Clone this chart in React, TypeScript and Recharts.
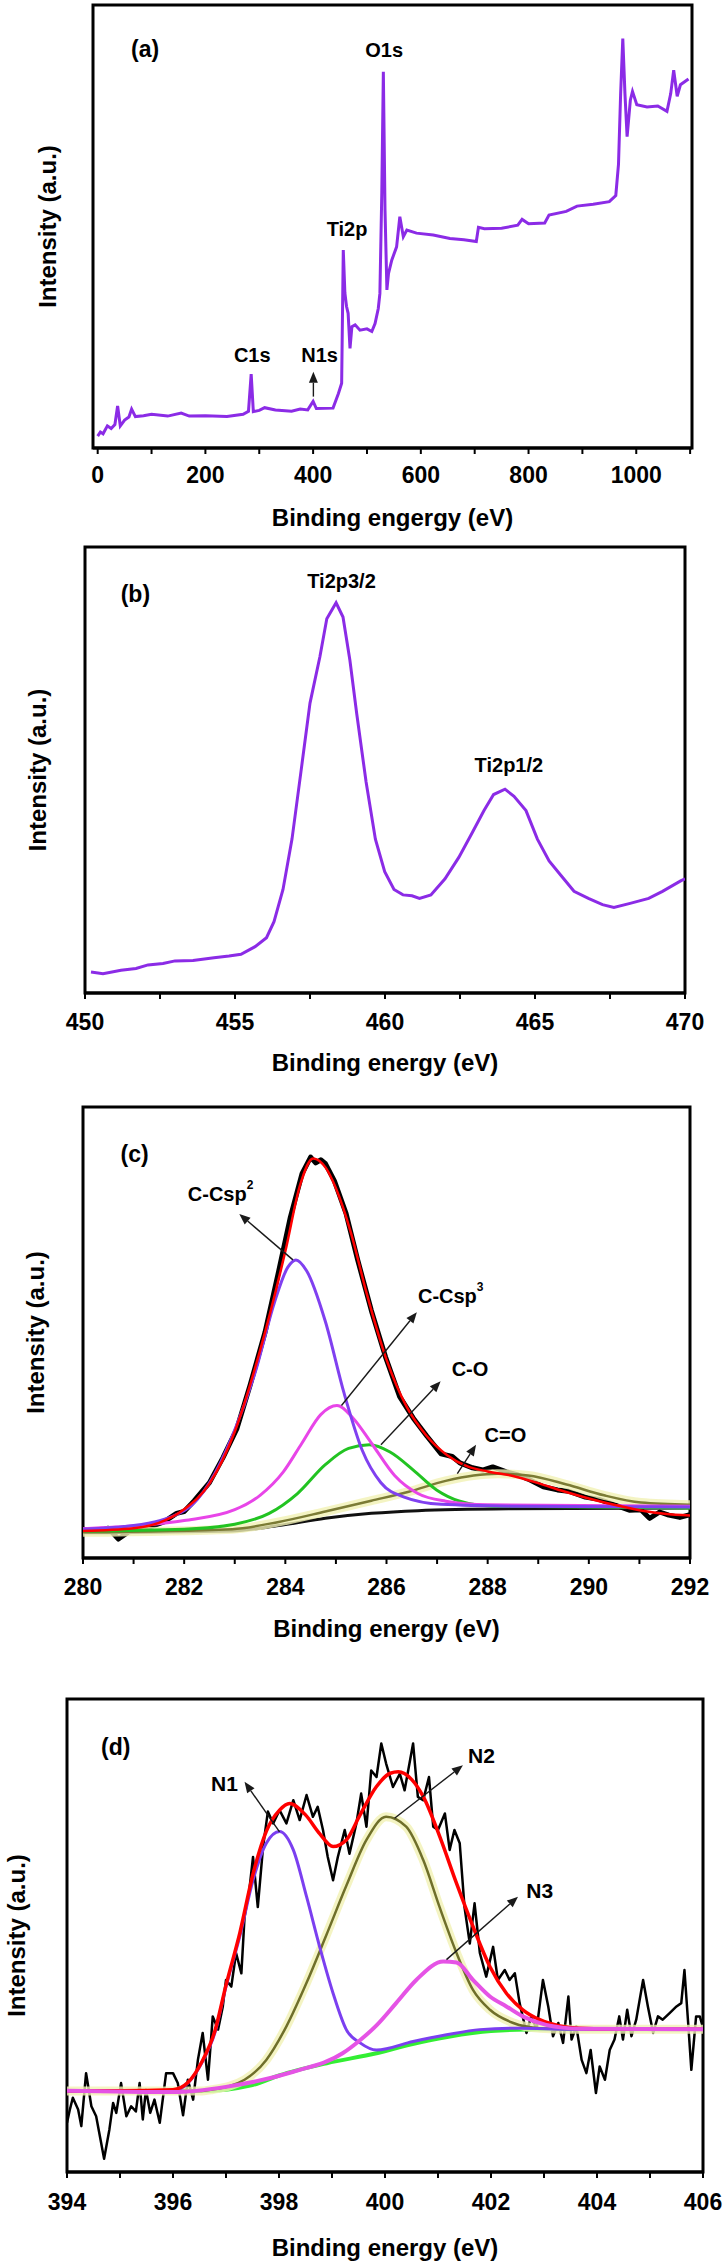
import React from "react";
import {
  LineChart,
  Line,
  XAxis,
  YAxis,
  ReferenceArea,
  ReferenceDot,
  ReferenceLine,
  Label,
} from "recharts";

const FONT = '"Liberation Sans", Arial, Helvetica, sans-serif';

// (a) survey spectrum
const surveyEnergy = [
  0, 5, 10, 18, 25, 32, 37, 42, 50, 58, 63, 70, 85, 100, 130, 155, 170, 200, 240, 270, 280, 285, 289,
  300, 310, 330, 360, 376, 390, 400, 406, 437, 447, 453, 456, 459, 462, 465, 468.5, 472, 478, 487,
  500, 509, 515, 521, 524, 527.5, 530.4, 533.5, 537, 540, 546, 555, 561, 567.5, 574, 592, 623, 654,
  680, 703, 707, 718, 750, 780, 788, 800, 830, 838, 870, 890, 920, 950, 962, 967, 971, 975, 979, 983,
  989, 993, 1001, 1020, 1040, 1057, 1064, 1069.5, 1076, 1082, 1097,
];
const surveyIntensity = [
  2.7, 3.6, 3.2, 5.0, 4.4, 5.3, 9.5, 5.0, 6.3, 7.0, 8.8, 7.1, 7.3, 7.6, 7.2, 7.9, 7.2, 7.3, 7.1, 7.6,
  8.3, 16.7, 8.2, 8.5, 9.1, 8.6, 8.3, 8.8, 8.6, 10.5, 8.9, 9.0, 12.3, 14.6, 44.7, 35.0, 32.0, 30.4,
  22.5, 27.4, 27.8, 26.6, 26.9, 26.3, 28.1, 31.5, 34.9, 57.5, 84.9, 53.7, 35.7, 39.4, 42.4, 45.4,
  52.2, 47.7, 49.2, 48.5, 48.1, 47.3, 47.0, 46.6, 49.8, 49.5, 49.6, 50.3, 51.6, 50.6, 50.8, 52.6,
  53.4, 54.6, 55.0, 55.6, 57.0, 64.0, 80.0, 92.4, 80.0, 70.3, 78.5, 80.5, 77.5, 77.0, 77.2, 76.0,
  80.0, 85.3, 79.4, 82.0, 83.3,
];
const surveyTicks = [0, 100, 200, 300, 400, 500, 600, 700, 800, 900, 1000, 1100];
const surveyTickLabels = [0, 200, 400, 600, 800, 1000];

// (b) Ti 2p
const tiEnergy = [
  450.2, 450.6, 451.2, 451.7, 452.1, 452.6, 453.0, 453.6, 454.3, 454.8, 455.2, 455.67, 456.05, 456.3,
  456.6, 456.9, 457.2, 457.5, 457.83, 458.06, 458.37, 458.6, 458.83, 459.06, 459.37, 459.68, 459.99,
  460.3, 460.6, 460.9, 461.15, 461.53, 462.0, 462.46, 462.92, 463.3, 463.62, 464.0, 464.3, 464.7,
  465.08, 465.47, 465.86, 466.3, 466.78, 467.25, 467.63, 468.17, 468.79, 469.25, 469.87, 470.0,
];
const tiIntensity = [
  4.7, 4.3, 5.1, 5.5, 6.3, 6.6, 7.2, 7.3, 7.9, 8.3, 8.7, 10.4, 12.4, 16.0, 23.2, 34.5, 49.7, 65.0,
  75.4, 83.9, 87.5, 84.3, 74.6, 62.5, 47.3, 34.5, 27.2, 23.2, 22.0, 21.8, 21.2, 22.0, 25.6, 30.4,
  36.1, 40.9, 44.5, 45.7, 44.1, 40.9, 34.5, 29.6, 26.4, 22.8, 21.2, 19.8, 19.2, 20.1, 21.2, 22.8,
  25.2, 25.6,
];
const tiTicks = [450, 452.5, 455, 457.5, 460, 462.5, 465, 467.5, 470];
const tiTickLabels = [450, 455, 460, 465, 470];

// (c) C 1s
const cRawEnergy = [
  280.0, 280.3, 280.5, 280.7, 280.9, 281.1, 281.3, 281.6, 281.85, 282.0, 282.2, 282.5, 282.77, 283.04,
  283.3, 283.6, 283.87, 284.1, 284.33, 284.5, 284.6, 284.7, 284.79, 284.97, 285.2, 285.43, 285.7,
  285.98, 286.26, 286.53, 286.8, 287.08, 287.3, 287.45, 287.7, 287.9, 288.1, 288.37, 288.6, 288.8,
  289.1, 289.38, 289.6, 289.93, 290.2, 290.48, 290.8, 291.03, 291.2, 291.4, 291.58, 291.8, 292.0,
];
const cRawIntensity = [
  6.4, 5.9, 6.6, 4.2, 5.8, 6.0, 6.8, 8.0, 9.9, 10.3, 12.7, 16.7, 22.3, 28.6, 38.2, 50.1, 63.7, 75.6,
  85.2, 88.9, 87.6, 88.3, 87.5, 83.6, 76.4, 66.1, 54.9, 44.6, 35.8, 31.0, 27.0, 23.1, 22.5, 21.1,
  20.0, 19.5, 20.2, 19.1, 18.4, 17.5, 15.8, 15.1, 14.8, 13.5, 13.0, 11.9, 10.6, 10.7, 8.8, 10.2, 9.5,
  9.0, 9.6,
];
const cFitEnergy = [
  280, 281, 281.5, 282, 282.5, 283, 283.5, 284, 284.3, 284.55, 284.8, 285, 285.3, 285.6, 286, 286.4,
  286.8, 287.2, 287.6, 288, 288.5, 289, 289.5, 290, 290.5, 291, 291.5, 292,
];
const cFitIntensity = [
  6.0, 6.6, 7.8, 10.8, 16.5, 28.0, 46.0, 68.0, 83.0, 88.6, 86.5, 82.0, 72.0, 59.0, 44.0, 33.5, 27.0,
  22.8, 20.3, 19.2, 18.2, 16.6, 14.8, 13.2, 11.8, 10.6, 9.8, 9.4,
];
const cSp2Energy = [
  280, 281, 282.03, 282.5, 282.95, 283.41, 283.78, 284.05, 284.21, 284.42, 284.79, 285.16, 285.52,
  285.89, 286.35, 287.08, 288.46, 292,
];
const cSp2Intensity = [
  6.4, 7.2, 10.7, 16.7, 27.0, 41.4, 56.5, 64.5, 66.1, 63.7, 52.5, 36.6, 23.9, 16.7, 13.5, 11.9, 11.5,
  11.3,
];
const cSp3Energy = [
  280, 281.1, 282.0, 283.0, 283.5, 283.96, 284.33, 284.7, 285.02, 285.34, 285.7, 286.16, 286.62,
  287.17, 288.0, 292,
];
const cSp3Intensity = [
  6.5, 7.2, 8.3, 10.7, 13.9, 19.1, 25.5, 31.8, 33.8, 31.0, 25.5, 18.3, 14.3, 12.6, 11.8, 11.5,
];
const cCOEnergy = [
  280, 282.0, 283.0, 283.68, 284.24, 284.79, 285.25, 285.66, 286.07, 286.53, 286.99, 287.45, 288.1,
  292,
];
const cCOIntensity = [6.0, 6.4, 7.5, 9.9, 14.3, 20.7, 24.3, 25.1, 23.5, 19.5, 15.1, 12.6, 11.5, 11.1];
const cCdOEnergy = [
  280, 282.95, 283.87, 284.79, 285.7, 286.44, 287.17, 287.72, 288.19, 288.8, 289.56, 290.3, 291.03,
  292,
];
const cCdOIntensity = [5.7, 6.4, 8.0, 10.3, 12.7, 14.7, 17.1, 18.3, 18.7, 18.3, 16.3, 13.9, 12.3, 11.8];
const cBaseEnergy = [280, 282.95, 283.87, 284.79, 285.7, 286.62, 288.46, 292];
const cBaseIntensity = [5.6, 6.0, 7.2, 8.8, 9.9, 10.5, 10.9, 11.1];
const cTicks = [280, 281, 282, 283, 284, 285, 286, 287, 288, 289, 290, 291, 292];
const cTickLabels = [280, 282, 284, 286, 288, 290, 292];

// (d) N 1s
const nRawEnergy = [
  394.0, 394.05, 394.11, 394.21, 394.27, 394.36, 394.46, 394.55, 394.7, 394.8, 394.87, 394.93, 395.02,
  395.12, 395.21, 395.3, 395.37, 395.43, 395.49, 395.57, 395.65, 395.75, 395.87, 396.0, 396.09,
  396.19, 396.28, 396.38, 396.47, 396.56, 396.66, 396.75, 396.85, 396.94, 397.0, 397.1, 397.19,
  397.29, 397.35, 397.44, 397.51, 397.6, 397.7, 397.79, 397.89, 398.01, 398.14, 398.27, 398.39,
  398.52, 398.64, 398.73, 398.83, 398.92, 399.02, 399.11, 399.24, 399.33, 399.46, 399.55, 399.65,
  399.74, 399.84, 399.93, 400.02, 400.15, 400.28, 400.37, 400.53, 400.62, 400.72, 400.83, 400.91,
  401.0, 401.13, 401.22, 401.31, 401.41, 401.5, 401.6, 401.69, 401.79, 401.91, 402.04, 402.13,
  402.26, 402.35, 402.45, 402.54, 402.67, 402.76, 402.86, 402.98, 403.08, 403.17, 403.27, 403.36,
  403.46, 403.52, 403.61, 403.71, 403.8, 403.88, 403.98, 404.05, 404.15, 404.24, 404.33, 404.42,
  404.49, 404.57, 404.65, 404.74, 404.87, 404.96, 405.06, 405.15, 405.24, 405.37, 405.5, 405.59,
  405.65, 405.72, 405.78, 405.87, 405.94, 406.0,
];
const nRawIntensity = [
  10.4, 13.0, 15.7, 13.2, 9.7, 20.9, 13.9, 11.8, 2.8, 9.0, 14.6, 12.5, 18.8, 11.8, 13.9, 12.8, 18.8,
  11.1, 17.4, 12.5, 15.3, 10.4, 20.9, 20.9, 18.8, 12.0, 19.5, 15.3, 23.7, 29.4, 19.5, 32.9, 30.1,
  35.0, 40.6, 39.2, 46.3, 42.0, 53.9, 59.6, 66.6, 56.0, 68.8, 76.2, 73.7, 76.5, 73.7, 78.6, 74.4,
  79.7, 75.1, 77.2, 72.3, 66.6, 61.7, 66.6, 72.3, 67.3, 73.7, 80.0, 73.0, 84.9, 83.5, 90.6, 86.4,
  81.4, 84.2, 80.7, 90.6, 79.3, 78.6, 83.5, 73.0, 72.3, 75.8, 68.1, 72.3, 69.5, 56.0, 48.3, 56.8,
  46.3, 41.3, 47.6, 40.6, 42.7, 40.6, 42.0, 35.7, 29.4, 32.9, 30.1, 40.6, 35.0, 28.7, 31.5, 27.3,
  37.1, 28.0, 30.8, 23.7, 20.9, 25.8, 16.7, 22.3, 19.5, 25.8, 28.0, 32.9, 28.0, 34.3, 28.7, 32.2,
  40.6, 35.0, 29.4, 32.9, 32.2, 33.6, 35.0, 35.7, 42.7, 31.5, 21.6, 32.9, 32.9, 30.5,
];
const nFitEnergy = [
  394, 395, 396, 396.28, 396.54, 396.79, 397.0, 397.26, 397.51, 397.76, 398.01, 398.2, 398.5, 398.77,
  399.02, 399.27, 399.53, 399.84, 400.1, 400.25, 400.5, 400.72, 401.03, 401.35, 401.66, 401.98,
  402.29, 402.6, 402.92, 403.3, 403.67, 404.5, 406,
];
const nFitIntensity = [
  17.2, 17.2, 17.4, 18.9, 23.2, 29.8, 39.5, 50.5, 63.0, 72.0, 76.5, 77.9, 75.5, 71.5, 68.8, 70.2,
  75.5, 81.5, 84.3, 84.6, 83.0, 79.4, 71.0, 61.0, 51.9, 43.4, 37.8, 34.3, 32.2, 30.9, 30.4, 30.2,
  30.2,
];
const n1Energy = [
  394, 396, 396.28, 396.54, 396.79, 397.0, 397.26, 397.51, 397.76, 398.01, 398.27, 398.52, 398.77,
  399.02, 399.27, 399.53, 399.84, 400.53, 401.16, 401.79, 402.54, 403.5, 406,
];
const n1Intensity = [
  17.1, 17.2, 18.8, 23.0, 29.4, 39.2, 49.8, 61.7, 69.5, 72.0, 68.1, 58.2, 47.5, 37.8, 30.1, 27.3,
  25.8, 27.6, 29.0, 30.1, 30.4, 30.2, 30.2,
];
const n2Energy = [
  394, 396.5, 396.73, 397.35, 397.76, 398.14, 398.52, 398.89, 399.27, 399.65, 400.02, 400.4, 400.72,
  401.03, 401.35, 401.66, 401.98, 402.42, 402.92, 403.5, 406,
];
const n2Intensity = [
  17.1, 17.1, 17.4, 19.5, 23.7, 30.8, 40.0, 50.0, 60.5, 70.2, 75.1, 73.0, 66.0, 56.0, 46.3, 38.5,
  34.3, 31.5, 30.4, 30.2, 30.2,
];
const n3Energy = [
  394, 396, 397.0, 398.27, 399.2, 399.5, 399.84, 400.21, 400.59, 401.1, 401.35, 401.66, 401.98,
  402.29, 402.6, 403.04, 403.67, 406,
];
const n3Intensity = [
  17.2, 16.9, 18.0, 21.2, 25.1, 27.6, 31.0, 35.7, 40.6, 44.5, 44.3, 40.6, 37.1, 35.0, 32.9, 31.1,
  30.3, 30.2,
];
const nBaseEnergy = [394, 396.5, 397.5, 398, 398.9, 399.84, 400.5, 401.2, 402, 403, 406];
const nBaseIntensity = [17.1, 17.1, 18.4, 20.4, 23.0, 25.1, 27.0, 28.6, 29.8, 30.2, 30.2];
const nTicks = [394, 395, 396, 397, 398, 399, 400, 401, 402, 403, 404, 405, 406];
const nTickLabels = [394, 396, 398, 400, 402, 404, 406];

const toPoints = (xs: number[], ys: number[]) => xs.map((x, i) => ({ x, y: ys[i] }));

type PanelProps = {
  top: number;
  height: number;
  left: number;
  right: number;
  frameTop: number;
  frameBottom: number;
  domain: [number, number];
  ticks: number[];
  tickLabels: number[];
  tickMargin: number;
  xTitle: string;
  xTitleY: number;
  yTitleX: number;
  children: React.ReactNode;
};

const AXIS_H = 60;

function XpsPanel(p: PanelProps) {
  const midX = (p.left + p.right) / 2;
  const midY = (p.frameTop + p.frameBottom) / 2;
  return (
    <div style={{ position: "absolute", left: 0, top: p.top }}>
      <LineChart
        width={725}
        height={p.height}
        margin={{
          top: p.frameTop,
          right: 725 - p.right,
          bottom: p.height - p.frameBottom - AXIS_H,
          left: 0,
        }}
      >
        <XAxis
          type="number"
          dataKey="x"
          domain={p.domain}
          ticks={p.ticks}
          interval={0}
          allowDataOverflow
          height={AXIS_H}
          tickSize={6}
          tickMargin={p.tickMargin}
          tickFormatter={(v: number) => (p.tickLabels.includes(v) ? String(v) : "")}
          axisLine={{ stroke: "#000", strokeWidth: 3 }}
          tickLine={{ stroke: "#000", strokeWidth: 2 }}
          tick={{ fill: "#000", fontSize: 23, fontWeight: 700, fontFamily: FONT }}
          label={
            <Label
              content={() => (
                <text
                  x={midX}
                  y={p.xTitleY}
                  textAnchor="middle"
                  dominantBaseline="central"
                  fontFamily={FONT}
                  fontSize={24}
                  fontWeight={700}
                  fill="#000"
                >
                  {p.xTitle}
                </text>
              )}
            />
          }
        />
        <YAxis
          type="number"
          domain={[0, 100]}
          allowDataOverflow
          width={p.left}
          tick={false}
          tickLine={false}
          axisLine={false}
          label={
            <Label
              content={() => (
                <text
                  x={p.yTitleX}
                  y={midY}
                  transform={`rotate(-90 ${p.yTitleX} ${midY})`}
                  textAnchor="middle"
                  dominantBaseline="central"
                  fontFamily={FONT}
                  fontSize={24}
                  fontWeight={700}
                  fill="#000"
                >
                  Intensity (a.u.)
                </text>
              )}
            />
          }
        />
        {p.children}
        <ReferenceArea
          x1={p.domain[0]}
          x2={p.domain[1]}
          y1={0}
          y2={100}
          fill="none"
          fillOpacity={0}
          stroke="#000"
          strokeWidth={3}
          ifOverflow="visible"
        />
      </LineChart>
    </div>
  );
}

const textShape = (content: React.ReactNode, size = 20) => (props: any) => (
  <text
    x={props.cx}
    y={props.cy}
    textAnchor="middle"
    dominantBaseline="central"
    fontFamily={FONT}
    fontSize={size}
    fontWeight={700}
    fill="#000"
  >
    {content}
  </text>
);

const arrowShape = (props: any) => {
  const { x1, y1, x2, y2 } = props;
  const ang = Math.atan2(y2 - y1, x2 - x1);
  const len = 11;
  const w = 4.5;
  const bx = x2 - len * Math.cos(ang);
  const by = y2 - len * Math.sin(ang);
  const px = -Math.sin(ang) * w;
  const py = Math.cos(ang) * w;
  return (
    <g>
      <line x1={x1} y1={y1} x2={bx} y2={by} stroke="#1a1a1a" strokeWidth={1.4} />
      <polygon points={`${x2},${y2} ${bx + px},${by + py} ${bx - px},${by - py}`} fill="#1a1a1a" />
    </g>
  );
};

const sup = (base: string, s: string) => (
  <>
    {base}
    <tspan fontSize={12} dy={-9}>
      {s}
    </tspan>
  </>
);

export default function App() {
  return (
    <div style={{ position: "absolute", left: 0, top: 0, width: 725, height: 2262, background: "#fff" }}>
      {/* (a) survey */}
      <XpsPanel
        top={0}
        height={540}
        left={93}
        right={692}
        frameTop={5}
        frameBottom={448}
        domain={[-8.7, 1103.5]}
        ticks={surveyTicks}
        tickLabels={surveyTickLabels}
        tickMargin={13}
        xTitle="Binding engergy (eV)"
        xTitleY={517}
        yTitleX={47}
      >
        <Line
          data={toPoints(surveyEnergy, surveyIntensity)}
          dataKey="y"
          type="linear"
          stroke="#8b2be6"
          strokeWidth={3}
          dot={false}
          activeDot={false}
          isAnimationActive={false}
        />
        <ReferenceDot x={88} y={90} r={0} shape={textShape("(a)", 23)} />
        <ReferenceDot x={532} y={89.8} r={0} shape={textShape("O1s")} />
        <ReferenceDot x={463} y={49.4} r={0} shape={textShape("Ti2p")} />
        <ReferenceDot x={287} y={21.1} r={0} shape={textShape("C1s")} />
        <ReferenceDot x={412} y={21.1} r={0} shape={textShape("N1s")} />
        <ReferenceLine segment={[{ x: 400.5, y: 11.6 }, { x: 400.5, y: 17.2 }]} shape={arrowShape} />
      </XpsPanel>

      {/* (b) Ti 2p */}
      <XpsPanel
        top={540}
        height={560}
        left={85}
        right={685}
        frameTop={7}
        frameBottom={453}
        domain={[450, 470]}
        ticks={tiTicks}
        tickLabels={tiTickLabels}
        tickMargin={15}
        xTitle="Binding energy (eV)"
        xTitleY={522}
        yTitleX={37}
      >
        <Line
          data={toPoints(tiEnergy, tiIntensity)}
          dataKey="y"
          type="linear"
          stroke="#8b2be6"
          strokeWidth={3}
          dot={false}
          activeDot={false}
          isAnimationActive={false}
        />
        <ReferenceDot x={451.68} y={89.5} r={0} shape={textShape("(b)", 23)} />
        <ReferenceDot x={458.55} y={92.4} r={0} shape={textShape("Ti2p3/2")} />
        <ReferenceDot x={464.13} y={51.2} r={0} shape={textShape("Ti2p1/2")} />
      </XpsPanel>

      {/* (c) C 1s */}
      <XpsPanel
        top={1100}
        height={580}
        left={83}
        right={690}
        frameTop={7}
        frameBottom={458}
        domain={[280, 292]}
        ticks={cTicks}
        tickLabels={cTickLabels}
        tickMargin={15}
        xTitle="Binding energy (eV)"
        xTitleY={528}
        yTitleX={35}
      >
        <Line
          data={toPoints(cRawEnergy, cRawIntensity)}
          dataKey="y"
          type="linear"
          stroke="#000"
          strokeWidth={5}
          strokeLinejoin="round"
          dot={false}
          activeDot={false}
          isAnimationActive={false}
        />
        <Line
          data={toPoints(cBaseEnergy, cBaseIntensity)}
          dataKey="y"
          type="monotone"
          stroke="#111"
          strokeWidth={3}
          dot={false}
          activeDot={false}
          isAnimationActive={false}
        />
        <Line
          data={toPoints(cCdOEnergy, cCdOIntensity)}
          dataKey="y"
          type="monotone"
          stroke="#f1f1b4"
          strokeOpacity={0.8}
          strokeWidth={9}
          dot={false}
          activeDot={false}
          isAnimationActive={false}
        />
        <Line
          data={toPoints(cCdOEnergy, cCdOIntensity)}
          dataKey="y"
          type="monotone"
          stroke="#7b7b35"
          strokeWidth={2.5}
          dot={false}
          activeDot={false}
          isAnimationActive={false}
        />
        <Line
          data={toPoints(cCOEnergy, cCOIntensity)}
          dataKey="y"
          type="monotone"
          stroke="#22c322"
          strokeWidth={3}
          dot={false}
          activeDot={false}
          isAnimationActive={false}
        />
        <Line
          data={toPoints(cSp3Energy, cSp3Intensity)}
          dataKey="y"
          type="monotone"
          stroke="#e845e8"
          strokeWidth={3}
          dot={false}
          activeDot={false}
          isAnimationActive={false}
        />
        <Line
          data={toPoints(cSp2Energy, cSp2Intensity)}
          dataKey="y"
          type="monotone"
          stroke="#8040f0"
          strokeWidth={3}
          dot={false}
          activeDot={false}
          isAnimationActive={false}
        />
        <Line
          data={toPoints(cFitEnergy, cFitIntensity)}
          dataKey="y"
          type="monotone"
          stroke="#ff0000"
          strokeWidth={2.5}
          dot={false}
          activeDot={false}
          isAnimationActive={false}
        />
        <ReferenceDot x={281.02} y={89.6} r={0} shape={textShape("(c)", 23)} />
        <ReferenceDot x={282.72} y={80.8} r={0} shape={textShape(sup("C-Csp", "2"))} />
        <ReferenceLine segment={[{ x: 284.15, y: 66.1 }, { x: 283.09, y: 76.3 }]} shape={arrowShape} />
        <ReferenceDot x={287.27} y={58.1} r={0} shape={textShape(sup("C-Csp", "3"))} />
        <ReferenceLine segment={[{ x: 285.11, y: 33.8 }, { x: 286.6, y: 54.5 }]} shape={arrowShape} />
        <ReferenceDot x={287.65} y={41.8} r={0} shape={textShape("C-O")} />
        <ReferenceLine segment={[{ x: 285.89, y: 25.1 }, { x: 287.07, y: 39.2 }]} shape={arrowShape} />
        <ReferenceDot x={288.35} y={27.3} r={0} shape={textShape("C=O")} />
        <ReferenceLine segment={[{ x: 287.4, y: 18.7 }, { x: 287.77, y: 25.1 }]} shape={arrowShape} />
      </XpsPanel>

      {/* (d) N 1s */}
      <XpsPanel
        top={1680}
        height={582}
        left={67}
        right={703}
        frameTop={19}
        frameBottom={492}
        domain={[394, 406]}
        ticks={nTicks}
        tickLabels={nTickLabels}
        tickMargin={16}
        xTitle="Binding energy (eV)"
        xTitleY={567}
        yTitleX={16}
      >
        <Line
          data={toPoints(nRawEnergy, nRawIntensity)}
          dataKey="y"
          type="linear"
          stroke="#000"
          strokeWidth={2.5}
          strokeLinejoin="round"
          dot={false}
          activeDot={false}
          isAnimationActive={false}
        />
        <Line
          data={toPoints(nBaseEnergy, nBaseIntensity)}
          dataKey="y"
          type="monotone"
          stroke="#33ee33"
          strokeWidth={4}
          dot={false}
          activeDot={false}
          isAnimationActive={false}
        />
        <Line
          data={toPoints(n2Energy, n2Intensity)}
          dataKey="y"
          type="monotone"
          stroke="#f1f1b4"
          strokeOpacity={0.8}
          strokeWidth={9}
          dot={false}
          activeDot={false}
          isAnimationActive={false}
        />
        <Line
          data={toPoints(n2Energy, n2Intensity)}
          dataKey="y"
          type="monotone"
          stroke="#6f6f2a"
          strokeWidth={2.5}
          dot={false}
          activeDot={false}
          isAnimationActive={false}
        />
        <Line
          data={toPoints(n1Energy, n1Intensity)}
          dataKey="y"
          type="monotone"
          stroke="#7b3ff0"
          strokeWidth={3}
          dot={false}
          activeDot={false}
          isAnimationActive={false}
        />
        <Line
          data={toPoints(nFitEnergy, nFitIntensity)}
          dataKey="y"
          type="monotone"
          stroke="#ff0000"
          strokeWidth={3.5}
          dot={false}
          activeDot={false}
          isAnimationActive={false}
        />
        <Line
          data={toPoints(n3Energy, n3Intensity)}
          dataKey="y"
          type="monotone"
          stroke="#e553e5"
          strokeWidth={4}
          dot={false}
          activeDot={false}
          isAnimationActive={false}
        />
        <ReferenceDot x={394.92} y={89.8} r={0} shape={textShape("(d)", 23)} />
        <ReferenceDot x={396.97} y={82.1} r={0} shape={textShape("N1", 21)} />
        <ReferenceLine segment={[{ x: 398.01, y: 71.9 }, { x: 397.35, y: 82.5 }]} shape={arrowShape} />
        <ReferenceDot x={401.82} y={88.1} r={0} shape={textShape("N2", 21)} />
        <ReferenceLine segment={[{ x: 400.18, y: 74.8 }, { x: 401.47, y: 86.0 }]} shape={arrowShape} />
        <ReferenceDot x={402.92} y={59.6} r={0} shape={textShape("N3", 21)} />
        <ReferenceLine segment={[{ x: 401.16, y: 44.9 }, { x: 402.51, y: 58.2 }]} shape={arrowShape} />
      </XpsPanel>
    </div>
  );
}
